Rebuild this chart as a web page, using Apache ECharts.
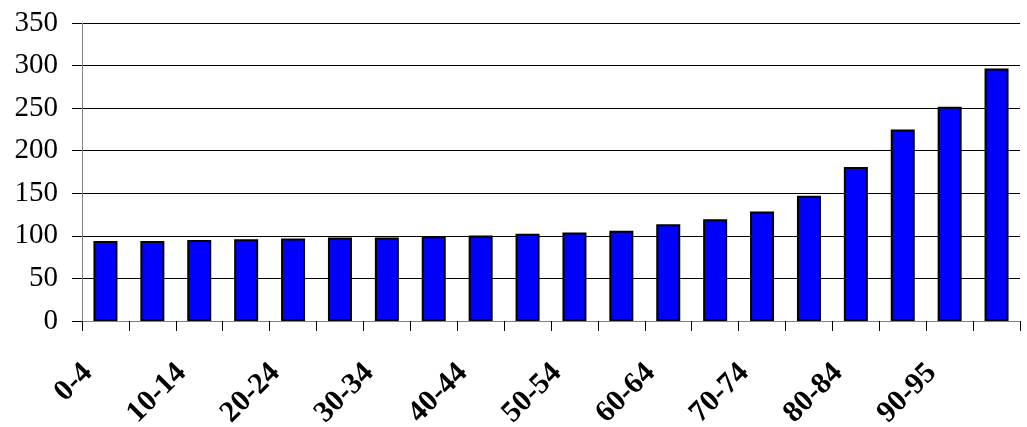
<!DOCTYPE html>
<html>
<head>
<meta charset="utf-8">
<script src="https://cdn.jsdelivr.net/npm/echarts@6/dist/echarts.min.js"></script>
<style>
  html, body { margin: 0; padding: 0; background: #fff; }
  #chart { width: 1027px; height: 427px; }
</style>
</head>
<body>
<div id="chart"></div>
<script>
// age groups
const ageGroups = ['0-4', '5-9', '10-14', '15-19', '20-24', '25-29', '30-34', '35-39',
    '40-44', '45-49', '50-54', '55-59', '60-64', '65-69', '70-74', '75-79',
    '80-84', '85-89', '90-95', '95+'];
const values = [94, 94, 95, 96, 97, 98, 98, 99.5, 100.5, 102.5, 104, 106,
    113.5, 119.5, 128.5, 147, 181, 225, 251.5, 296.5];
const yTicks = { min: 0, max: 350, interval: 50 };

const chart = echarts.init(document.getElementById('chart'));

const option = {
    animation: false,
    grid: { left: 82, right: 7, top: 23, bottom: 106, containLabel: false, outerBoundsMode: 'none' },
    xAxis: {
        type: 'category',
        data: ageGroups,
        boundaryGap: true,
        axisLine: { lineStyle: { color: '#808080', width: 1 } },
        axisTick: { show: true, length: 10, interval: 0, lineStyle: { color: '#000' } },
        axisLabel: {
            interval: 1,
            rotate: 45,
            margin: 51,
            verticalAlign: 'bottom',
            padding: [0, 10, 0, 0],
            fontFamily: 'Liberation Serif',
            fontWeight: 'bold',
            fontSize: 30,
            color: '#000'
        }
    },
    yAxis: {
        type: 'value',
        min: yTicks.min,
        max: yTicks.max,
        interval: yTicks.interval,
        axisLine: { show: true, lineStyle: { color: '#808080', width: 1 } },
        axisTick: { show: true, length: 10, lineStyle: { color: '#000' } },
        axisLabel: {
            margin: 24,
            fontFamily: 'Liberation Serif',
            fontSize: 29,
            color: '#000'
        },
        splitLine: { show: true, lineStyle: { color: '#000', width: 1 } }
    },
    series: [
        {
            type: 'bar',
            data: values,
            barWidth: 24,
            itemStyle: {
                color: '#0000FF',
                borderColor: '#000',
                borderWidth: 2
            }
        }
    ]
};

chart.setOption(option);
</script>
</body>
</html>
